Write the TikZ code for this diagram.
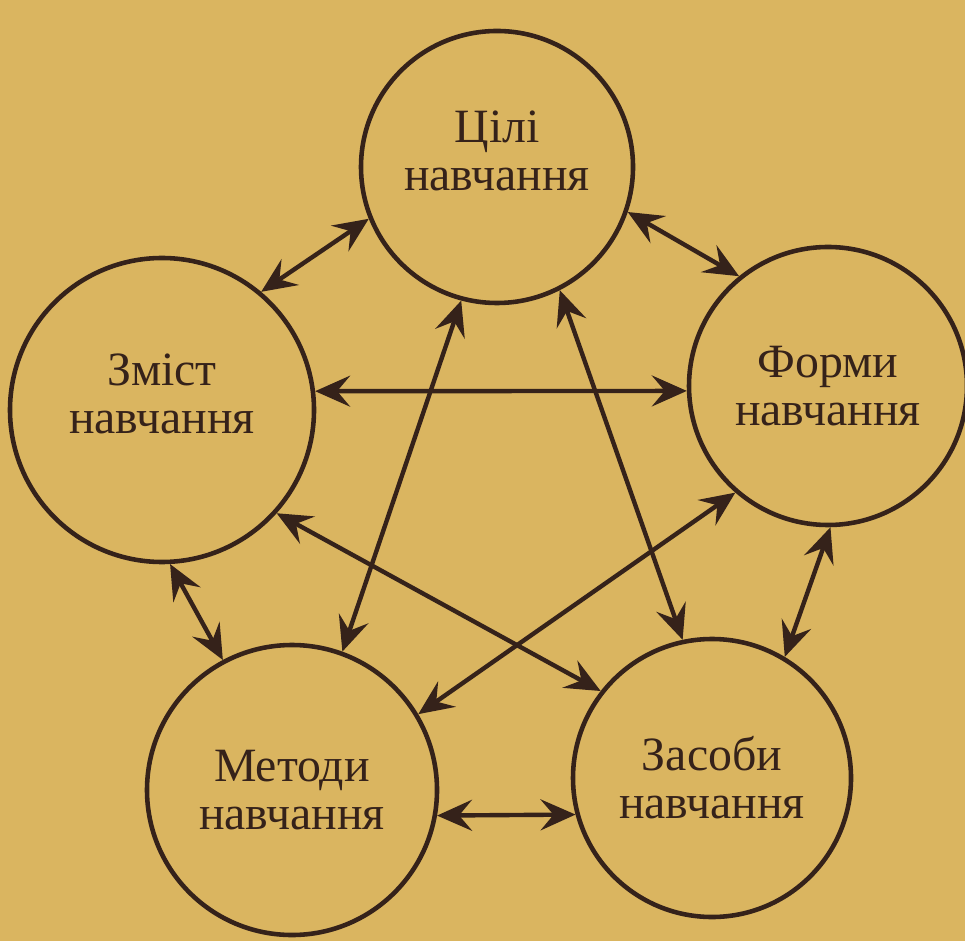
\documentclass[tikz,border=0pt]{standalone}
\usepackage{fontspec}
\setmainfont{Liberation Serif}
\usetikzlibrary{arrows.meta}

\definecolor{paper}{HTML}{DAB560}
\definecolor{ink}{HTML}{35221A}

\begin{document}
\begin{tikzpicture}[>={Stealth[length=3.5mm,width=3.1mm,inset=1.3mm]},
  topic/.style={circle, draw=ink, line width=1.3pt, inner sep=0pt,
    text=ink, align=center, font=\fontsize{13.6}{13.6}\selectfont},
  link/.style={<->, draw=ink, line width=1.25pt}]
  \useasboundingbox (0,0) rectangle (9.65,9.41);
  \fill[paper] (0,0) rectangle (9.65,9.41);
  \clip (0,0) rectangle (9.65,9.41);
  % five circles
  \node[topic, minimum size=2.72cm, text depth=3.2mm] (goals)   at (4.97,7.74) {Цілі\\навчання};
  \node[topic, minimum size=3.04cm, text depth=3.2mm] (content) at (1.62,5.31) {Зміст\\навчання};
  \node[topic, minimum size=2.78cm] (forms)   at (8.28,5.55) {Форми\\навчання};
  \node[topic, minimum size=2.90cm] (methods) at (2.92,1.51) {Методи\\навчання};
  \node[topic, minimum size=2.78cm] (means)   at (7.12,1.63) {Засоби\\навчання};
  % every pair linked both ways
  \foreach \a/\i/\b/\j in {goals/202/content/50, goals/341/forms/129,
      content/7/forms/182, goals/255/methods/70, goals/297/means/102,
      content/318/means/142, forms/229/methods/31, forms/271/means/59,
      content/273/methods/118, methods/350/means/195} {
    \draw[link] (\a.\i) -- (\b.\j);
  }
\end{tikzpicture}
\end{document}
